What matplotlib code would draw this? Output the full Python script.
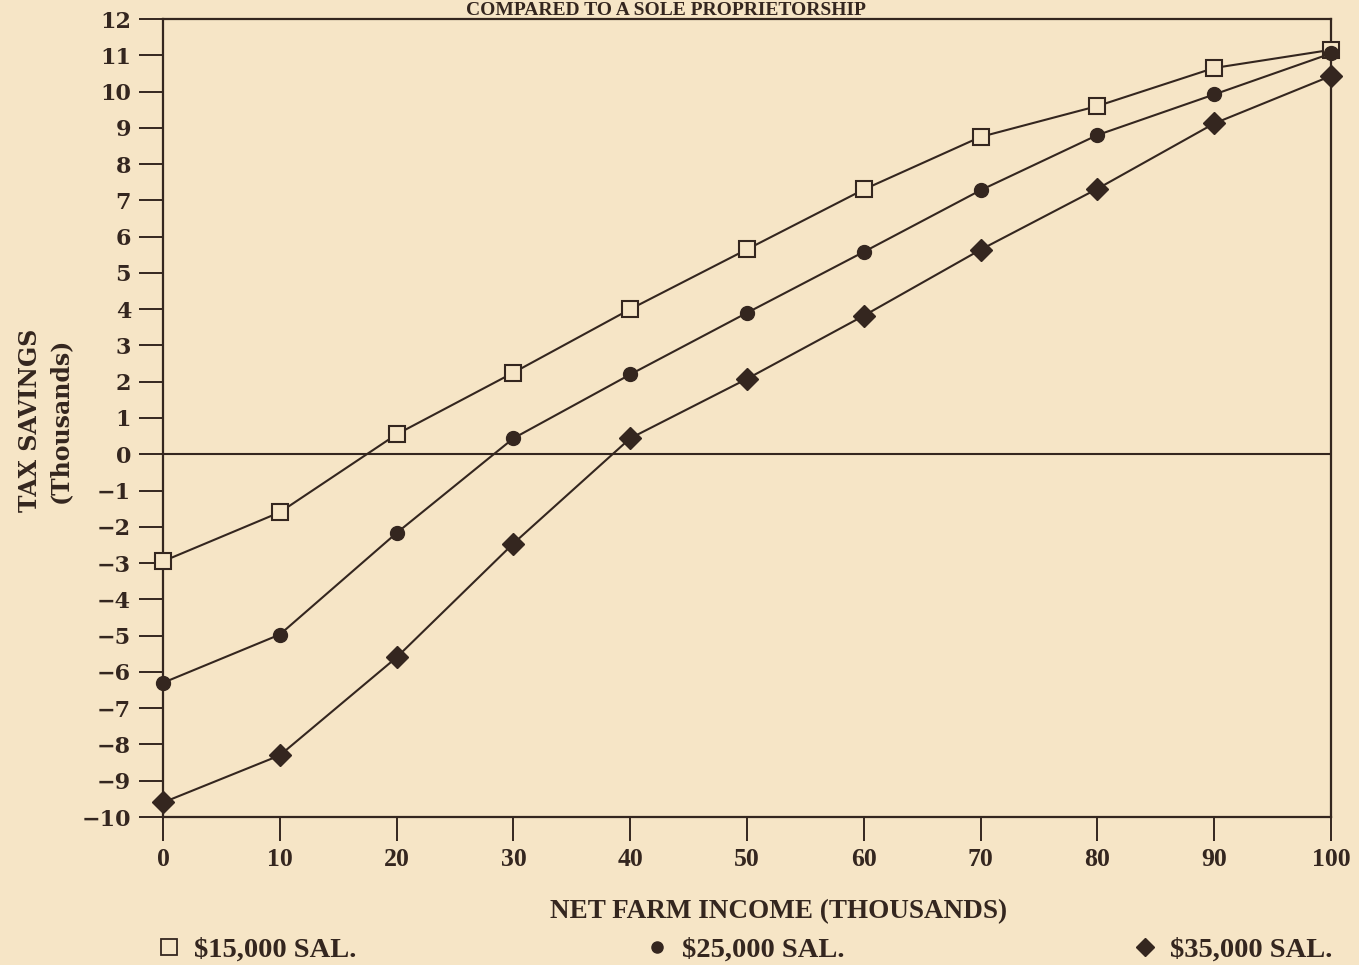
import matplotlib.pyplot as plt
from matplotlib.lines import Line2D

# Data (thousands of dollars)
income = [0, 10, 20, 30, 40, 50, 60, 70, 80, 90, 100]
sal_15000 = [-2.95, -1.6, 0.55, 2.25, 4.0, 5.65, 7.3, 8.75, 9.6, 10.65, 11.15]
sal_25000 = [-6.3, -4.97, -2.17, 0.44, 2.2, 3.9, 5.58, 7.28, 8.8, 9.92, 11.05]
sal_35000 = [-9.6, -8.3, -5.6, -2.46, 0.44, 2.08, 3.82, 5.64, 7.32, 9.12, 10.43]

series_labels = ['$15,000 SAL.', '$25,000 SAL.', '$35,000 SAL.']
y_ticks = list(range(-10, 13))
y_tick_labels = [('\u2212' + str(-v)) if v < 0 else str(v) for v in y_ticks]
x_ticks = income

paper = '#f6e5c6'
ink = '#34261f'

fig = plt.figure(figsize=(13.59, 9.65), dpi=100, facecolor=paper)
ax = fig.add_axes([163 / 1359, 1 - 817 / 965, (1331 - 163) / 1359, (817 - 19) / 965])
ax.set_facecolor(paper)

# markers at x=0 and x=100 sit on the frame, so no clipping
ax.plot(income, sal_15000, color=ink, lw=1.5, marker='s', ms=11.5,
        mfc=paper, mec=ink, mew=1.5, zorder=3, clip_on=False)
ax.plot(income, sal_25000, color=ink, lw=1.5, marker='o', ms=10,
        mfc=ink, mec=ink, zorder=3, clip_on=False)
ax.plot(income, sal_35000, color=ink, lw=1.5, marker='D', ms=11,
        mfc=ink, mec=ink, zorder=3, clip_on=False)

ax.axhline(0, color=ink, lw=1.5, zorder=2)

ax.set_xlim(0, 100)
ax.set_ylim(-10, 12)
for s in ax.spines.values():
    s.set_color(ink)
    s.set_linewidth(1.6)

ax.set_yticks(y_ticks)
ax.set_yticklabels(y_tick_labels, family='DejaVu Serif', fontweight='bold',
                   fontsize=16, color=ink)
ax.set_xticks(x_ticks)
ax.set_xticklabels([str(v) for v in x_ticks], family='Liberation Serif',
                   fontweight='bold', fontsize=18.5, color=ink)
ax.tick_params(axis='both', direction='out', length=17, width=1.4, color=ink)
ax.tick_params(axis='y', pad=6)
ax.tick_params(axis='x', pad=5)

# Title (cut off at the top of the scan in the original)
fig.text(666 / 1359, 1 - 15 / 965, 'COMPARED TO A SOLE PROPRIETORSHIP',
         ha='center', va='baseline', family='Liberation Serif',
         fontweight='bold', fontsize=14, color=ink)

fig.text(45 / 1359, 1 - 420 / 965, 'TAX SAVINGS\n(Thousands)', rotation=90,
         ha='center', va='center', ma='center', family='DejaVu Serif',
         fontweight='bold', fontsize=17, color=ink, linespacing=1.3)

fig.text(779 / 1359, 1 - 912 / 965, 'NET FARM INCOME (THOUSANDS)',
         ha='center', va='center', family='Liberation Serif',
         fontweight='bold', fontsize=19.5, color=ink)

handles = [
    Line2D([], [], ls='none', marker='s', ms=11, mfc=paper, mec=ink, mew=1.3),
    Line2D([], [], ls='none', marker='o', ms=8, mfc=ink, mec=ink),
    Line2D([], [], ls='none', marker='D', ms=9, mfc=ink, mec=ink),
]
leg = fig.legend(handles, series_labels, loc='center', ncol=3, mode='expand',
                 bbox_to_anchor=(158 / 1359, -0.001, (1332 - 158) / 1359, 0.034),
                 frameon=False, handlelength=0.8, handletextpad=0.45,
                 borderaxespad=0, borderpad=0,
                 prop={'family': 'Liberation Serif', 'weight': 'bold', 'size': 20.5})
for t in leg.get_texts():
    t.set_color(ink)

fig.savefig('out.png', dpi=100, facecolor=paper)
